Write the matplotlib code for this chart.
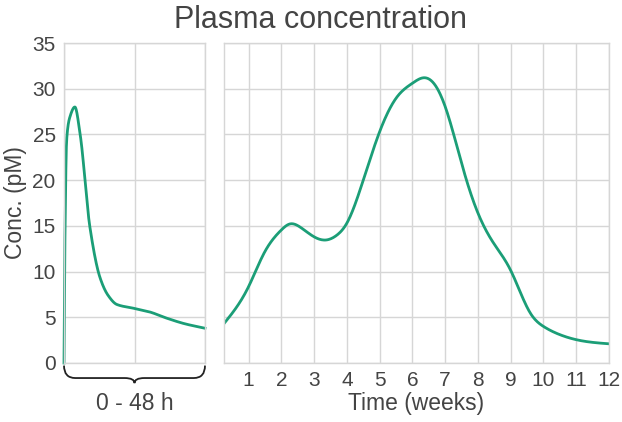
import numpy as np
import matplotlib
matplotlib.use("Agg")
import matplotlib.pyplot as plt
from matplotlib.path import Path
from matplotlib.patches import PathPatch

plt.rcParams['font.family'] = ['Liberation Sans', 'DejaVu Sans']

# ---- data ----
hours = [0, 0.35, 0.9, 2.0, 3.7, 5.5, 8.8, 12.2, 15, 18, 23.5, 29, 35, 41, 48]
conc_hours = [0, 14.5, 24.4, 26.9, 28.0, 25.0, 14.9, 9.4, 7.4, 6.4, 6.0, 5.6, 4.9, 4.3, 3.8]

weeks = [0.27, 1.0, 1.47, 2.0, 2.25, 2.6, 3.0, 3.35, 3.7, 4.0, 4.5, 5.0, 5.53, 6.0,
         6.35, 6.65, 7.0, 7.56, 8.0, 8.48, 8.99, 9.6, 10.0, 10.5, 11.0, 12.0]
conc_weeks = [4.4, 8.35, 12.0, 14.55, 15.2, 14.8, 13.8, 13.45, 14.0, 15.3, 20.0, 25.3,
              29.1, 30.6, 31.2, 30.6, 28.05, 21.1, 16.4, 13.1, 10.2, 5.45, 4.0, 3.1, 2.55, 2.1]

week_ticks = list(range(1, 13))
y_ticks = [0, 5, 10, 15, 20, 25, 30, 35]

title = "Plasma concentration"
ylabel = "Conc. (pM)"
xlabel = "Time (weeks)"
brace_label = "0 - 48 h"


def monotone(x, y, n=600):
    """Monotone (Fritsch-Carlson) cubic Hermite interpolation through the points."""
    x = np.asarray(x, float); y = np.asarray(y, float)
    h = np.diff(x)
    d = np.diff(y) / h
    m = np.zeros_like(y)
    m[0] = d[0]; m[-1] = d[-1]
    for i in range(1, len(x) - 1):
        if d[i - 1] * d[i] <= 0:
            m[i] = 0.0
        else:
            w1 = 2 * h[i] + h[i - 1]
            w2 = h[i] + 2 * h[i - 1]
            m[i] = (w1 + w2) / (w1 / d[i - 1] + w2 / d[i])
    xs = np.linspace(x[0], x[-1], n)
    idx = np.clip(np.searchsorted(x, xs) - 1, 0, len(x) - 2)
    t = (xs - x[idx]) / h[idx]
    h00 = 2 * t**3 - 3 * t**2 + 1
    h10 = t**3 - 2 * t**2 + t
    h01 = -2 * t**3 + 3 * t**2
    h11 = t**3 - t**2
    ys = h00 * y[idx] + h10 * h[idx] * m[idx] + h01 * y[idx + 1] + h11 * h[idx] * m[idx + 1]
    return xs, ys


def natural(x, y, n=500):
    """Natural cubic spline through the points."""
    x = np.asarray(x, float); y = np.asarray(y, float)
    m = len(x)
    h = np.diff(x)
    A = np.zeros((m, m)); b = np.zeros(m)
    A[0, 0] = 1; A[-1, -1] = 1
    for i in range(1, m - 1):
        A[i, i - 1] = h[i - 1]
        A[i, i] = 2 * (h[i - 1] + h[i])
        A[i, i + 1] = h[i]
        b[i] = 3 * ((y[i + 1] - y[i]) / h[i] - (y[i] - y[i - 1]) / h[i - 1])
    c = np.linalg.solve(A, b)
    xs = np.linspace(x[0], x[-1], n)
    idx = np.clip(np.searchsorted(x, xs) - 1, 0, m - 2)
    dx = xs - x[idx]
    bi = (y[idx + 1] - y[idx]) / h[idx] - h[idx] * (2 * c[idx] + c[idx + 1]) / 3
    di = (c[idx + 1] - c[idx]) / (3 * h[idx])
    ys = y[idx] + bi * dx + c[idx] * dx ** 2 + di * dx ** 3
    return xs, ys


line_color = '#1b9e77'
grid_color = '#d6d6d6'
text_color = '#444444'

fig = plt.figure(figsize=(6.22, 4.22), dpi=100)
ax1 = fig.add_axes([64 / 622, 1 - 363 / 422, 141 / 622, 320 / 422])
ax2 = fig.add_axes([224 / 622, 1 - 363 / 422, 385 / 622, 320 / 422])

for ax in (ax1, ax2):
    ax.set_ylim(0, 35)
    ax.set_yticks(y_ticks)
    ax.grid(True, color=grid_color, linewidth=1)
    ax.set_axisbelow(True)
    for s in ax.spines.values():
        s.set_color(grid_color)
        s.set_linewidth(1)
    ax.tick_params(length=0, labelsize=15, colors=text_color, pad=6)

hx, hy = monotone(hours, conc_hours)
ax1.plot(hx, hy, color=line_color, lw=2, clip_on=False, solid_joinstyle='round')
ax1.set_xlim(0, 48)
ax1.set_xticks([0, 24, 48])
ax1.set_xticklabels([])
ax1.set_ylabel(ylabel, fontsize=16.5, color=text_color, labelpad=4)

wx, wy = natural(weeks, conc_weeks)
ax2.plot(wx, wy, color=line_color, lw=2)
ax2.set_xlim(0.25, 12)
ax2.set_xticks(week_ticks)
ax2.set_xticklabels([str(t) for t in week_ticks])
ax2.set_yticklabels([])
ax2.set_xlabel(xlabel, fontsize=16.5, color=text_color, labelpad=1)

# curly brace under the left panel (axes-fraction coordinates)
y0, y1, y2 = -0.008, -0.047, -0.063
verts = [(0.0, y0), (0.0, y1), (0.08, y1), (0.43, y1), (0.5, y1), (0.5, y2),
         (0.5, y1), (0.57, y1), (0.92, y1), (1.0, y1), (1.0, y0)]
codes = [Path.MOVETO, Path.CURVE3, Path.CURVE3, Path.LINETO, Path.CURVE3, Path.CURVE3,
         Path.CURVE3, Path.CURVE3, Path.LINETO, Path.CURVE3, Path.CURVE3]
brace = PathPatch(Path(verts, codes), transform=ax1.transAxes, fill=False,
                  edgecolor='#222222', lw=1.3, clip_on=False)
ax1.add_patch(brace)
ax1.text(0.5, -0.09, brace_label, transform=ax1.transAxes, ha='center', va='top',
         fontsize=16.5, color=text_color)

fig.text(320 / 622, 1 - 20 / 422, title, ha='center', va='center', fontsize=22,
         color=text_color)

fig.savefig('out.png', dpi=100)
